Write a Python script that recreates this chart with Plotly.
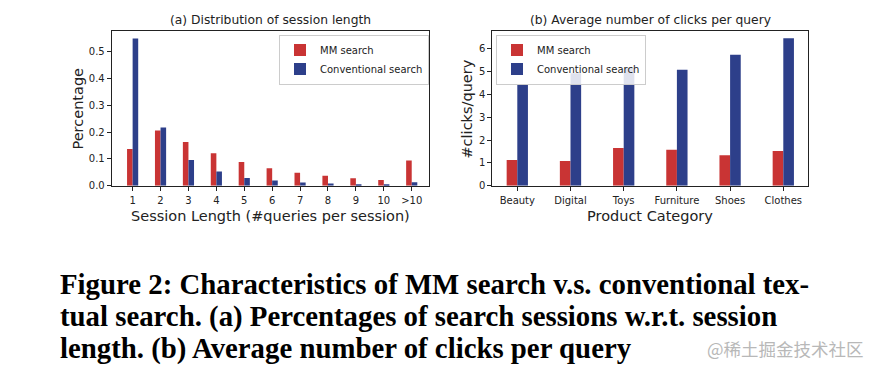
import plotly.graph_objects as go

# ---- data ----
session_lengths = ["1", "2", "3", "4", "5", "6", "7", "8", "9", "10", ">10"]
mm_session = [0.137, 0.206, 0.163, 0.121, 0.089, 0.065, 0.049, 0.037, 0.028, 0.022, 0.094]
conv_session = [0.549, 0.217, 0.096, 0.053, 0.029, 0.020, 0.012, 0.009, 0.006, 0.004, 0.013]

categories = ["Beauty", "Digital", "Toys", "Furniture", "Shoes", "Clothes"]
mm_clicks = [1.13, 1.08, 1.65, 1.58, 1.33, 1.52]
conv_clicks = [4.41, 4.92, 5.15, 5.07, 5.73, 6.45]

series_names = ["MM search", "Conventional search"]
RED = "#c93434"
BLUE = "#2d3f8a"

W, H = 880, 376
def px(x):
    return x / W
def py(y):
    return 1 - y / H

TXT = "#222222"
SANS = "DejaVu Sans"

fig = go.Figure()

fig.add_trace(go.Bar(x=session_lengths, y=mm_session, name=series_names[0], marker_color=RED,
                     marker_line_width=0, xaxis="x", yaxis="y", legend="legend"))
fig.add_trace(go.Bar(x=session_lengths, y=conv_session, name=series_names[1], marker_color=BLUE,
                     marker_line_width=0, xaxis="x", yaxis="y", legend="legend"))
fig.add_trace(go.Bar(x=categories, y=mm_clicks, name=series_names[0], marker_color=RED,
                     marker_line_width=0, xaxis="x2", yaxis="y2", legend="legend2"))
fig.add_trace(go.Bar(x=categories, y=conv_clicks, name=series_names[1], marker_color=BLUE,
                     marker_line_width=0, xaxis="x2", yaxis="y2", legend="legend2"))

axis_common = dict(showline=True, linecolor="#222", linewidth=1, mirror=True, ticks="outside",
                   ticklen=4, tickcolor="#222", showgrid=False, zeroline=False,
                   tickfont=dict(family=SANS, size=10, color=TXT))

ydom = [py(188.3), py(31.7)]
legend_common = dict(yanchor="top", xanchor="left", y=py(35),
                     bgcolor="rgba(255,255,255,0.85)", bordercolor="#cccccc", borderwidth=1,
                     font=dict(family=SANS, size=10, color=TXT), tracegroupgap=0,
                     itemwidth=30)
fig.update_layout(
    width=W, height=H, margin=dict(l=0, r=0, t=0, b=0),
    paper_bgcolor="white", plot_bgcolor="white",
    barmode="group", bargap=0.6, bargroupgap=0,
    xaxis=dict(domain=[px(111.7), px(429.3)], range=[-0.75, 10.63], anchor="y",
               type="category", ticklabelstandoff=1, **axis_common),
    yaxis=dict(domain=ydom, range=[0, 0.576], anchor="x", tickvals=[0, 0.1, 0.2, 0.3, 0.4, 0.5],
               tickformat=".1f", **axis_common),
    xaxis2=dict(domain=[px(492.3), px(808.3)], range=[-0.47, 5.47], anchor="y2",
                type="category", ticklabelstandoff=1, **axis_common),
    yaxis2=dict(domain=ydom, range=[0, 6.75], anchor="x2", tickvals=[0, 1, 2, 3, 4, 5, 6],
                **axis_common),
    legend=dict(x=px(279), **legend_common),
    legend2=dict(x=px(496), **legend_common),
    showlegend=True,
)

ann = []
# subplot titles
ann.append(dict(text="(a) Distribution of session length", x=px(270.5), y=py(20.7), xref="paper", yref="paper",
                xanchor="center", yanchor="middle", showarrow=False,
                font=dict(family=SANS, size=12.3, color=TXT)))
ann.append(dict(text="(b) Average number of clicks per query", x=px(650.3), y=py(20.7), xref="paper", yref="paper",
                xanchor="center", yanchor="middle", showarrow=False,
                font=dict(family=SANS, size=12.3, color=TXT)))
# axis titles
ann.append(dict(text="Session Length (#queries per session)", x=px(270.5), y=py(219), xref="paper", yref="paper",
                xanchor="center", yanchor="middle", showarrow=False,
                font=dict(family=SANS, size=14.5, color=TXT)))
ann.append(dict(text="Product Category", x=px(650.3), y=py(219), xref="paper", yref="paper",
                xanchor="center", yanchor="middle", showarrow=False,
                font=dict(family=SANS, size=14.5, color=TXT)))
ann.append(dict(text="Percentage", x=px(78), y=py(110), xref="paper", yref="paper", textangle=-90,
                xanchor="center", yanchor="middle", showarrow=False,
                font=dict(family=SANS, size=14.5, color=TXT)))
ann.append(dict(text="#clicks/query", x=px(467), y=py(110), xref="paper", yref="paper", textangle=-90,
                xanchor="center", yanchor="middle", showarrow=False,
                font=dict(family=SANS, size=14.5, color=TXT)))

# caption
caption_lines = [
    "Figure 2: Characteristics of MM search v.s. conventional tex-",
    "tual search. (a) Percentages of search sessions w.r.t. session",
    "length. (b) Average number of clicks per query",
]
for i, line in enumerate(caption_lines):
    ann.append(dict(text="<b>" + line + "</b>", x=px(58), y=py(288 + 32.5 * i), xref="paper", yref="paper",
                    xanchor="left", yanchor="middle", showarrow=False,
                    font=dict(family="Liberation Serif", size=28.8, color="black")))
ann.append(dict(text="@稀土掘金技术社区", x=px(785), y=py(353), xref="paper", yref="paper",
                xanchor="center", yanchor="middle", showarrow=False,
                font=dict(family="Noto Sans CJK SC", size=17.5, color="#b8b8b8")))

fig.update_layout(annotations=ann)
fig.write_html("out.html", config={"displayModeBar": False},
               post_script="document.body.style.margin='0';")
